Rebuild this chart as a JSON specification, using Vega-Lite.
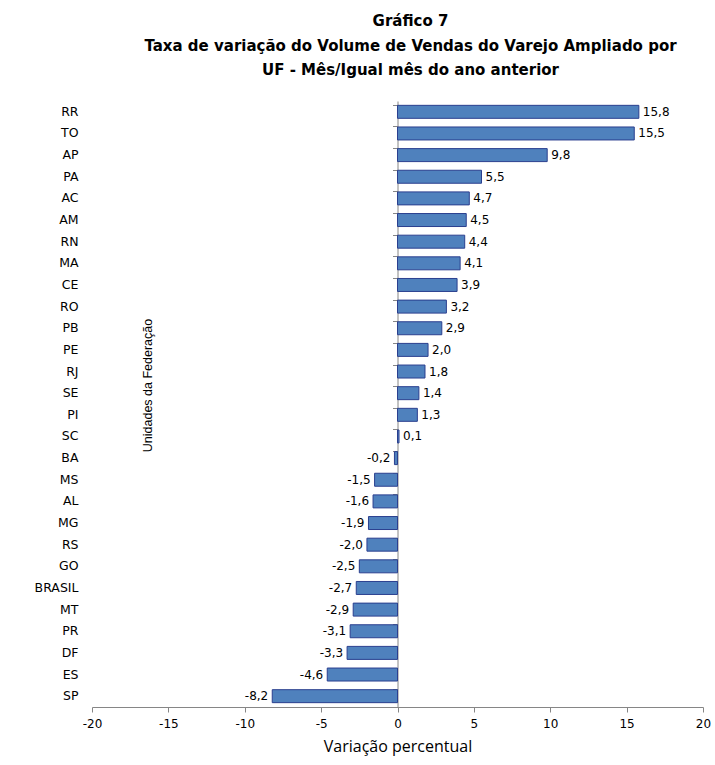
{
  "$schema": "https://vega.github.io/schema/vega-lite/v6.json",
  "width": 611,
  "height": 606,
  "autosize": {"type": "none"},
  "padding": {"left": 92, "top": 101, "right": 12, "bottom": 58},
  "background": "white",
  "title": {
    "text": ["Gráfico 7", "Taxa de variação do Volume de Vendas do Varejo Ampliado por", "UF - Mês/Igual mês do ano anterior"],
    "font": "DejaVu Sans",
    "fontSize": 15,
    "fontWeight": "bold",
    "lineHeight": 24.5,
    "anchor": "middle",
    "dx": 13,
    "offset": 23,
    "color": "#000000"
  },
  "data": {
    "values": [
      {"uf": "RR", "v": 15.8},
      {"uf": "TO", "v": 15.5},
      {"uf": "AP", "v": 9.8},
      {"uf": "PA", "v": 5.5},
      {"uf": "AC", "v": 4.7},
      {"uf": "AM", "v": 4.5},
      {"uf": "RN", "v": 4.4},
      {"uf": "MA", "v": 4.1},
      {"uf": "CE", "v": 3.9},
      {"uf": "RO", "v": 3.2},
      {"uf": "PB", "v": 2.9},
      {"uf": "PE", "v": 2.0},
      {"uf": "RJ", "v": 1.8},
      {"uf": "SE", "v": 1.4},
      {"uf": "PI", "v": 1.3},
      {"uf": "SC", "v": 0.1},
      {"uf": "BA", "v": -0.2},
      {"uf": "MS", "v": -1.5},
      {"uf": "AL", "v": -1.6},
      {"uf": "MG", "v": -1.9},
      {"uf": "RS", "v": -2.0},
      {"uf": "GO", "v": -2.5},
      {"uf": "BRASIL", "v": -2.7},
      {"uf": "MT", "v": -2.9},
      {"uf": "PR", "v": -3.1},
      {"uf": "DF", "v": -3.3},
      {"uf": "ES", "v": -4.6},
      {"uf": "SP", "v": -8.2}
    ]
  },
  "layer": [
    {
      "mark": {"type": "bar", "fill": "#4F81BD", "stroke": "#2A3F8F", "strokeWidth": 1},
      "encoding": {
        "y": {
          "field": "uf", "type": "nominal", "sort": null,
          "scale": {"paddingInner": 0.4, "paddingOuter": 0.2},
          "axis": {
            "orient": "left",
            "title": "Unidades da Federação",
            "titleFont": "Liberation Sans",
            "titleFontSize": 12.5,
            "titleFontWeight": "normal",
            "titleColor": "#000000",
            "titleX": 55,
            "titleY": 284,
            "titleAngle": 270,
            "titleAlign": "center",
            "titleBaseline": "middle",
            "domain": false,
            "ticks": false,
            "labelPadding": 14,
            "labelFont": "DejaVu Sans",
            "labelFontSize": 12.5,
            "labelColor": "#000000"
          }
        },
        "x": {
          "field": "v", "type": "quantitative",
          "scale": {"domain": [-20, 20], "nice": false, "zero": true},
          "axis": {
            "values": [-20, -15, -10, -5, 0, 5, 10, 15, 20],
            "format": "d",
            "grid": false,
            "labelFlush": false,
            "domainColor": "#868686",
            "tickColor": "#868686",
            "tickSize": 5,
            "labelPadding": 6,
            "labelFont": "DejaVu Sans",
            "labelFontSize": 12,
            "labelColor": "#000000",
            "title": "Variação percentual",
            "titleFont": "Open Sans",
            "titleFontSize": 16,
            "titleFontWeight": "normal",
            "titleColor": "#000000",
            "titlePadding": 9
          }
        }
      }
    },
    {
      "transform": [{"filter": "datum.v >= 0"}],
      "mark": {"type": "text", "align": "left", "baseline": "middle", "dx": 4, "font": "DejaVu Sans", "fontSize": 12, "color": "#000000"},
      "encoding": {
        "y": {
          "field": "uf", "type": "nominal", "sort": null,
          "axis": {
            "orient": "left",
            "offset": -305.5,
            "title": null,
            "labels": false,
            "domain": true,
            "domainColor": "#868686",
            "ticks": true,
            "tickColor": "#868686",
            "tickSize": 5,
            "bandPosition": 0
          }
        },
        "x": {"field": "v", "type": "quantitative"},
        "text": {"field": "v", "type": "quantitative", "format": ".1f"}
      }
    },
    {
      "transform": [{"filter": "datum.v < 0"}],
      "mark": {"type": "text", "align": "right", "baseline": "middle", "dx": -4, "font": "DejaVu Sans", "fontSize": 12, "color": "#000000"},
      "encoding": {
        "y": {"field": "uf", "type": "nominal", "sort": null, "axis": null},
        "x": {"field": "v", "type": "quantitative"},
        "text": {"field": "v", "type": "quantitative", "format": ".1f"}
      }
    }
  ],
  "resolve": {"axis": {"y": "independent"}},
  "config": {
    "view": {"stroke": null},
    "locale": {"number": {"decimal": ",", "thousands": ".", "grouping": [3], "currency": ["R$", ""], "minus": "-"}}
  }
}
